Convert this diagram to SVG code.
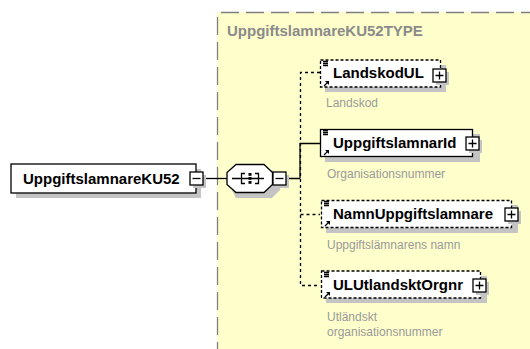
<svg xmlns="http://www.w3.org/2000/svg" width="530" height="349" viewBox="0 0 530 349">
<defs>
<style>
.lbl{font-family:"Liberation Sans",Arial,sans-serif;font-size:15px;font-weight:bold;fill:#000}
.desc{font-family:"Liberation Sans",Arial,sans-serif;font-size:12px;fill:#9a9a9a}
.title{font-family:"Liberation Sans",Arial,sans-serif;font-size:15px;font-weight:bold;fill:#8a8a8a}
.shadow{fill:#c4c4c4}
.box{fill:#fff;stroke:#000;stroke-width:1.3}
.opt{fill:#fff;stroke:#000;stroke-width:1.3;stroke-dasharray:3,2}
.btn{fill:#fff;stroke:#000;stroke-width:1.3}
.sym{stroke:#000;stroke-width:1.3;fill:none}
.con{stroke:#000;stroke-width:1.3;fill:none}
.dcon{stroke:#000;stroke-width:1.3;fill:none;stroke-dasharray:3,3}
</style>
<g id="plus">
<rect class="shadow" x="3" y="3" width="13" height="13"/>
<rect class="btn" x="0" y="0" width="13" height="13"/>
<path class="sym" d="M2.5 6.5H10.5M6.5 2.5V10.5"/>
</g>
<g id="minus">
<rect class="shadow" x="3" y="3" width="13" height="13"/>
<rect class="btn" x="0" y="0" width="13" height="13"/>
<path class="sym" d="M2.5 6.5H10.5"/>
</g>
<g id="icons">
<path class="sym" stroke-width="1" d="M2 1.5H7M2 3.5H7M2 5.5H7"/>
<path class="sym" stroke-width="1.4" d="M3 26L7 22"/>
<path d="M4 21H8V25Z" fill="#000"/>
</g>
</defs>

<g id="complexType">
<rect x="217" y="12" width="320" height="345" fill="#ffffcc"/>
<path d="M221 12.5H530" stroke="#808080" stroke-width="1.3" stroke-dasharray="18,7" fill="none"/>
<path d="M217.5 17V349" stroke="#808080" stroke-width="1.3" stroke-dasharray="18,7" fill="none"/>
<text class="title" x="227" y="36">UppgiftslamnareKU52TYPE</text>
</g>

<g id="connectors">
<path class="con" d="M203 178.5H228"/>
<path class="con" d="M287 178.5H300M300 178.5V143.5H320"/>
<path class="dcon" d="M320 72.5H300.5V285.5H320"/>
<path class="dcon" d="M300.5 214.5H320"/>
</g>

<g id="UppgiftslamnareKU52">
<rect class="shadow" x="16" y="169" width="185" height="29"/>
<rect class="box" x="11" y="164" width="185" height="29"/>
<text class="lbl" x="23" y="184">UppgiftslamnareKU52</text>
<use href="#minus" x="190" y="172"/>
</g>

<g id="sequence">
<path class="shadow" d="M236 170H272L280 178V190L272 198H236L232 190V178Z"/>
<path d="M236 164.5H264L272.5 172.5V184.5L264 192.5H236L227 184.5V172.5Z" fill="#fff" stroke="#000" stroke-width="1.3"/>
<path class="sym" d="M232 178.5H264M245 173.5H241.5V183.5H245M255 173.5H258.5V183.5H255"/>
<rect x="248.5" y="173" width="3" height="2.8" fill="#000"/>
<rect x="248.5" y="177" width="3" height="2.8" fill="#000"/>
<rect x="248.5" y="181" width="3" height="2.8" fill="#000"/>
<use href="#minus" x="273" y="172"/>
</g>

<g id="LandskodUL">
<rect class="shadow" x="325" y="65" width="121" height="27"/>
<rect class="opt" x="320.5" y="60" width="120" height="27"/>
<use href="#icons" x="321" y="60"/>
<text class="lbl" x="333" y="78">LandskodUL</text>
<use href="#plus" x="433" y="69"/>
<text class="desc" x="326" y="107">Landskod</text>
</g>

<g id="Uppgiftslamnarld">
<rect class="shadow" x="325" y="134" width="155" height="28"/>
<rect class="box" x="320.5" y="129.5" width="152" height="27"/>
<use href="#icons" x="321" y="129"/>
<text class="lbl" x="333" y="148">UppgiftslamnarId</text>
<use href="#plus" x="466" y="137"/>
<text class="desc" x="327" y="178">Organisationsnummer</text>
</g>

<g id="NamnUppgiftslamnare">
<rect class="shadow" x="326" y="205" width="192" height="28"/>
<rect class="opt" x="321.5" y="200.5" width="190" height="27"/>
<use href="#icons" x="322" y="200"/>
<text class="lbl" x="333" y="219">NamnUppgiftslamnare</text>
<use href="#plus" x="505" y="208"/>
<text class="desc" x="327" y="249">Uppgiftslämnarens namn</text>
</g>

<g id="ULUtlandsktOrgnr">
<rect class="shadow" x="326" y="276" width="161" height="27"/>
<rect class="opt" x="321.5" y="271" width="159" height="27"/>
<use href="#icons" x="322" y="271"/>
<text class="lbl" x="333" y="290">ULUtlandsktOrgnr</text>
<use href="#plus" x="473" y="279"/>
<text class="desc" x="327" y="321">Utländskt</text>
<text class="desc" x="327" y="336">organisationsnummer</text>
</g>
</svg>
